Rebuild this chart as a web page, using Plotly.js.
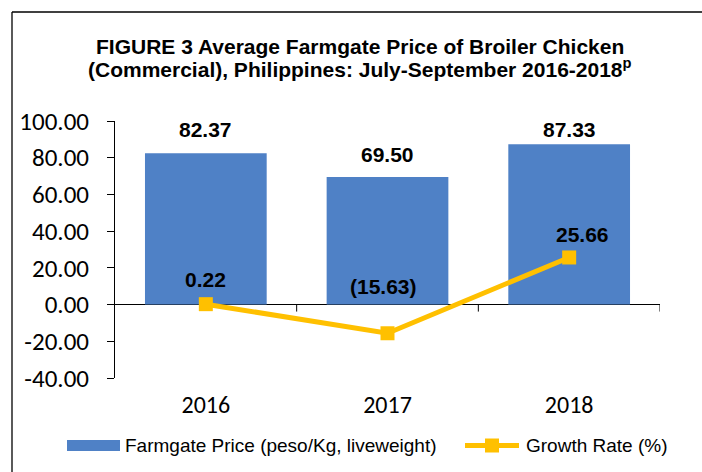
<!DOCTYPE html>
<html>
<head>
<meta charset="utf-8">
<script src="https://cdn.plot.ly/plotly-3.0.1.min.js"></script>
<style>html,body{margin:0;padding:0;background:#fff;}#chart{width:702px;height:472px;}</style>
</head>
<body>
<div id="chart"></div>
<script>
// ---- data ----
const categories = ['2016', '2017', '2018'];
const farmgatePrice = [82.37, 69.50, 87.33];
const growthRate = [0.22, -15.63, 25.66];
const priceLabels = ['82.37', '69.50', '87.33'];
const growthLabels = ['0.22', '(15.63)', '25.66'];
const yTickVals = [-40, -20, 0, 20, 40, 60, 80, 100];
const seriesNames = ['Farmgate Price (peso/Kg, liveweight)', 'Growth Rate (%)'];
const titleLines = ['FIGURE 3 Average Farmgate Price of Broiler Chicken',
                    '(Commercial), Philippines: July-September 2016-2018<sup>p</sup>'];

// ---- style ----
const BLUE = '#4f81c6';
const GOLD = '#FFC000';
const ARIAL = 'Arial, "Liberation Sans", sans-serif';
const CAL = 'Carlito, Lato, sans-serif';
const priceShift = [[0, 24], [0, 22], [0, 15]];
const growthShift = [[0, 25], [-4, 47], [13, 23]];

const W = 702, H = 472;
const M = {l: 115, r: 42, t: 121, b: 94};
const PW = W - M.l - M.r, PH = H - M.t - M.b;
const px = x => (x - M.l) / PW;
const py = y => (H - M.b - y) / PH;

const traces = [
  {type: 'bar', x: categories, y: farmgatePrice, name: seriesNames[0],
   marker: {color: BLUE, line: {width: 0}}, hoverinfo: 'skip', showlegend: false},
  {type: 'scatter', mode: 'lines+markers', x: categories, y: growthRate, name: seriesNames[1],
   line: {color: GOLD, width: 5}, marker: {symbol: 'square', size: 14, color: GOLD},
   hoverinfo: 'skip', showlegend: false}
];

const annotations = [];
categories.forEach((c, i) => {
  // on a category axis annotations take the category's serial index
  annotations.push({x: i, y: farmgatePrice[i], xref: 'x', yref: 'y', text: '<b>' + priceLabels[i] + '</b>',
    showarrow: false, xanchor: 'center', yanchor: 'middle',
    xshift: priceShift[i][0], yshift: priceShift[i][1],
    font: {family: ARIAL, size: 21, color: '#000'}});
  annotations.push({x: i, y: growthRate[i], xref: 'x', yref: 'y', text: '<b>' + growthLabels[i] + '</b>',
    showarrow: false, xanchor: 'center', yanchor: 'middle',
    xshift: growthShift[i][0], yshift: growthShift[i][1],
    font: {family: ARIAL, size: 21, color: '#000'}});
});
// title
annotations.push({xref: 'paper', yref: 'paper', x: px(360), y: py(47), xanchor: 'center', yanchor: 'middle',
  text: '<b>' + titleLines[0] + '</b>', showarrow: false, font: {family: ARIAL, size: 21, color: '#000'}});
annotations.push({xref: 'paper', yref: 'paper', x: px(360), y: py(68), xanchor: 'center', yanchor: 'middle',
  text: '<b>' + titleLines[1] + '</b>', showarrow: false, font: {family: ARIAL, size: 21, color: '#000'}});
// legend texts
annotations.push({xref: 'paper', yref: 'paper', x: px(123), y: py(445.5), xanchor: 'left', yanchor: 'middle',
  text: seriesNames[0], showarrow: false, font: {family: ARIAL, size: 19, color: '#000'}});
annotations.push({xref: 'paper', yref: 'paper', x: px(524), y: py(445.5), xanchor: 'left', yanchor: 'middle',
  text: seriesNames[1], showarrow: false, font: {family: ARIAL, size: 19, color: '#000'}});

const shapes = [
  // frame
  {type: 'line', xref: 'paper', yref: 'paper', x0: px(12), x1: px(12), y0: py(12), y1: py(480), line: {color: '#000', width: 1.3}},
  {type: 'line', xref: 'paper', yref: 'paper', x0: px(12), x1: px(710), y0: py(12), y1: py(12), line: {color: '#000', width: 1.3}},
  // legend
  {type: 'rect', xref: 'paper', yref: 'paper', x0: px(67), x1: px(120), y0: py(440), y1: py(451), fillcolor: BLUE, line: {width: 0}},
  {type: 'line', xref: 'paper', yref: 'paper', x0: px(465), x1: px(519), y0: py(445.5), y1: py(445.5), line: {color: GOLD, width: 5}},
  {type: 'rect', xref: 'paper', yref: 'paper', x0: px(485), x1: px(499), y0: py(438.5), y1: py(452.5), fillcolor: GOLD, line: {width: 0}}
];
// category boundary ticks on the zero line
[0.5, 1.5, 2.5].forEach(b => shapes.push({type: 'line', xref: 'x', yref: 'y', x0: b, x1: b,
  ysizemode: 'pixel', yanchor: 0, y0: 0, y1: -7, line: {color: '#000', width: 1}}));

const layout = {
  width: W, height: H, margin: M, paper_bgcolor: '#fff', plot_bgcolor: '#fff',
  showlegend: false, bargap: 0.33,
  xaxis: {type: 'category', range: [-0.5, 2.5], showline: false, showgrid: false, zeroline: false,
    ticks: '', tickfont: {family: CAL, size: 24, color: '#000'}, ticklabelstandoff: 10, fixedrange: true},
  yaxis: {range: [-40, 100], tickvals: yTickVals, ticktext: yTickVals.map(v => v.toFixed(2)), showgrid: false,
    showline: true, linecolor: '#000', linewidth: 1, ticks: 'outside', ticklen: 7, tickcolor: '#000',
    zeroline: true, zerolinecolor: '#000', zerolinewidth: 1,
    tickfont: {family: CAL, size: 25, color: '#000'}, ticklabelstandoff: 13, fixedrange: true},
  annotations: annotations, shapes: shapes
};

Plotly.newPlot('chart', traces, layout, {staticPlot: true, displayModeBar: false});
</script>
</body>
</html>
